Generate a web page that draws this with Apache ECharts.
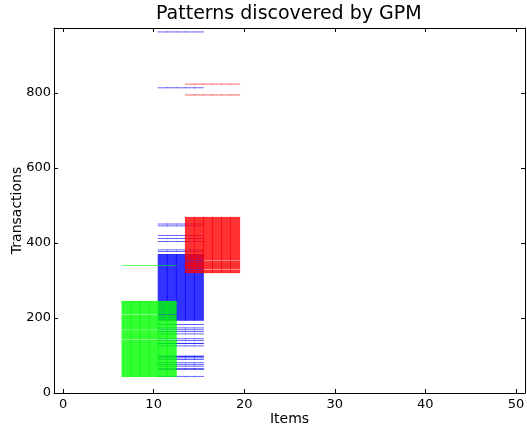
<!DOCTYPE html>
<html>
<head>
<meta charset="utf-8">
<script src="https://cdn.jsdelivr.net/npm/echarts@6/dist/echarts.min.js"></script>
<style>
  html, body { margin: 0; padding: 0; background: #fff; }
  #chart { width: 527px; height: 427px; }
</style>
</head>
<body>
<div id="chart"></div>
<script>
// items (columns) of each pattern
var blueItems = [11, 12, 13, 14, 15];
var greenItems = [7, 8, 9, 10, 11, 12];
var redItems = [14, 15, 16, 17, 18, 19];

// transaction ranges [from, to] covered by each pattern
var blueRanges = [
    [44, 45], [62, 63], [65, 66], [71, 72], [75, 76], [80, 81], [89, 90],
    [93, 94], [96, 99], [125, 126], [131, 133], [139, 140], [144, 145],
    [157, 158], [163, 164], [168, 169], [173, 174], [182, 183],
    [193, 370], [377, 378], [381, 382], [403, 404], [411, 412], [419, 420],
    [445, 446], [450, 451], [813, 814], [962, 963]
];
var greenRanges = [[43, 142], [144, 167], [169, 209], [211, 245], [339, 340]];
var redRanges = [[320, 328], [330, 353], [355, 469], [794, 795], [823, 824]];

var xTicks = [0, 10, 20, 30, 40, 50];
var yTicks = [0, 200, 400, 600, 800];

function cells(items, ranges) {
    var d = [];
    items.forEach(function (it) {
        ranges.forEach(function (r) {
            d.push([it, r[0], r[1]]);
        });
    });
    return d;
}

function patternSeries(name, color, items, ranges) {
    return {
        name: name,
        type: 'custom',
        renderItem: function (params, api) {
            var p0 = api.coord([api.value(0) - 0.55, api.value(1) - 0.5]);
            var p1 = api.coord([api.value(0) + 0.55, api.value(2) + 0.5]);
            return {
                type: 'rect',
                shape: { x: p0[0], y: p1[1], width: p1[0] - p0[0], height: p0[1] - p1[1] },
                style: { fill: color, opacity: 0.8 }
            };
        },
        encode: { x: 0, y: [1, 2] },
        data: cells(items, ranges),
        silent: true,
        animation: false
    };
}

var font = 'DejaVu Sans';
function frameAxis(pos, min, max, ticks) {
    return {
        type: 'value', min: min, max: max, position: pos,
        axisLine: { show: true, onZero: false, lineStyle: { color: '#000', width: 1 } },
        axisTick: { inside: true, length: 4, customValues: ticks, lineStyle: { color: '#000' } },
        axisLabel: { show: false },
        splitLine: { show: false }
    };
}

var myChart = echarts.init(document.getElementById('chart'));
var option = {
    animation: false,
    title: {
        text: 'Patterns discovered by GPM',
        left: 156,
        top: 5,
        padding: 0,
        textStyle: { fontFamily: font, fontSize: 19, fontWeight: 'normal', color: '#000' }
    },
    grid: { left: 54, right: 2, top: 28, bottom: 34, outerBoundsMode: 'none', containLabel: false },
    xAxis: [
        {
            type: 'value', min: -1, max: 51, position: 'bottom',
            name: 'Items', nameLocation: 'middle', nameGap: 19, nameMoveOverlap: false,
            nameTextStyle: { fontFamily: font, fontSize: 14, color: '#000' },
            axisLine: { show: true, onZero: false, lineStyle: { color: '#000', width: 1 } },
            axisTick: { inside: true, length: 4, customValues: xTicks, lineStyle: { color: '#000' } },
            axisLabel: { customValues: xTicks, margin: 5, fontFamily: font, fontSize: 13, color: '#000' },
            splitLine: { show: false }
        },
        frameAxis('top', -1, 51, xTicks)
    ],
    yAxis: [
        {
            type: 'value', min: 0, max: 973, position: 'left',
            name: 'Transactions', nameLocation: 'middle', nameGap: 30, nameMoveOverlap: false,
            nameTextStyle: { fontFamily: font, fontSize: 14, color: '#000' },
            axisLine: { show: true, onZero: false, lineStyle: { color: '#000', width: 1 } },
            axisTick: { inside: true, length: 4, customValues: yTicks, lineStyle: { color: '#000' } },
            axisLabel: { customValues: yTicks, margin: 3, fontFamily: font, fontSize: 13, color: '#000' },
            splitLine: { show: false }
        },
        frameAxis('right', 0, 973, yTicks)
    ],
    series: [
        patternSeries('blue', '#0000ff', blueItems, blueRanges),
        patternSeries('green', '#00ff00', greenItems, greenRanges),
        patternSeries('red', '#ff0000', redItems, redRanges)
    ]
};
myChart.setOption(option);
</script>
</body>
</html>
